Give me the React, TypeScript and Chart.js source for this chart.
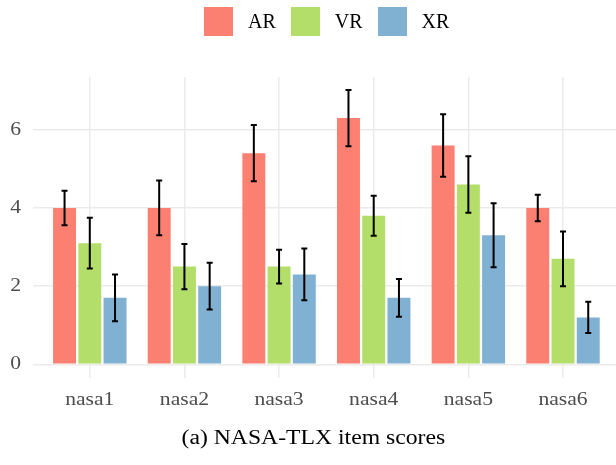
import React, { useEffect, useRef } from "react";
import { Chart, registerables } from "chart.js";
Chart.register(...registerables);

const categories = ["nasa1", "nasa2", "nasa3", "nasa4", "nasa5", "nasa6"];
const seriesNames = ["AR", "VR", "XR"];
const arMean = [4.0, 4.0, 5.4, 6.3, 5.6, 4.0];
const vrMean = [3.1, 2.5, 2.5, 3.8, 4.6, 2.7];
const xrMean = [1.7, 2.0, 2.3, 1.7, 3.3, 1.2];
const arErr = [0.44, 0.7, 0.72, 0.72, 0.8, 0.34];
const vrErr = [0.65, 0.58, 0.43, 0.51, 0.72, 0.7];
const xrErr = [0.6, 0.6, 0.66, 0.48, 0.82, 0.4];
const yTicks = [0, 2, 4, 6];
const colors = ["#FB8072", "#B3DE69", "#80B1D3"];
const caption = "(a) NASA-TLX item scores";

const means = [arMean, vrMean, xrMean];
const errs = [arErr, vrErr, xrErr];

const FONT = "'Liberation Serif', 'DejaVu Serif', serif";
const TICK_STRETCH = 1.2;
const CAPTION_STRETCH = 1.184;

const stretchTextPlugin = {
  id: "stretchText",
  beforeDraw(chart: any) {
    const ctx = chart.ctx;
    const orig = ctx.fillText;
    chart.$origFillText = orig;
    ctx.fillText = function (text: string, x: number, y: number, maxWidth?: number) {
      this.save();
      this.translate(x, y);
      this.scale(TICK_STRETCH, 1);
      if (maxWidth !== undefined && maxWidth !== null) {
        orig.call(this, text, 0, 0, maxWidth / TICK_STRETCH);
      } else {
        orig.call(this, text, 0, 0);
      }
      this.restore();
    };
  },
  afterDraw(chart: any) {
    if (chart.$origFillText) {
      chart.ctx.fillText = chart.$origFillText;
    }
  },
};

const errorBarPlugin = {
  id: "errorBars",
  afterDatasetsDraw(chart: any) {
    const ctx = chart.ctx;
    const y = chart.scales.y;
    ctx.save();
    ctx.strokeStyle = "#000000";
    ctx.lineWidth = 2;
    chart.data.datasets.forEach((_ds: any, di: number) => {
      const meta = chart.getDatasetMeta(di);
      meta.data.forEach((bar: any, i: number) => {
        const m = means[di][i];
        const e = errs[di][i];
        const top = y.getPixelForValue(m + e);
        const bot = y.getPixelForValue(m - e);
        const x = bar.x;
        const cap = 3;
        ctx.beginPath();
        ctx.moveTo(x, top);
        ctx.lineTo(x, bot);
        ctx.moveTo(x - cap, top);
        ctx.lineTo(x + cap, top);
        ctx.moveTo(x - cap, bot);
        ctx.lineTo(x + cap, bot);
        ctx.stroke();
      });
    });
    ctx.restore();
  },
};

export default function App() {
  const canvasRef = useRef<HTMLCanvasElement | null>(null);

  useEffect(() => {
    if (!canvasRef.current) return;
    const chart = new Chart(canvasRef.current, {
      type: "bar",
      data: {
        datasets: seriesNames.map((name, di) => ({
          label: name,
          data: means[di].map((v, i) => ({ x: i + 1, y: v })),
          backgroundColor: colors[di],
          borderWidth: 0,
          categoryPercentage: 0.8,
          barPercentage: 0.91,
        })),
      },
      options: {
        animation: false,
        responsive: true,
        maintainAspectRatio: false,
        layout: { padding: { top: 77, left: 0, right: 0, bottom: 0 } },
        plugins: {
          legend: { display: false },
          tooltip: { enabled: false },
          title: { display: false },
        },
        scales: {
          x: {
            type: "linear",
            min: 0.4,
            max: 6.56,
            offset: false,
            afterBuildTicks: (axis: any) => {
              axis.ticks = categories.map((_, i) => ({ value: i + 1 }));
            },
            afterFit: (axis: any) => {
              axis.height = 87;
            },
            grid: {
              offset: false,
              color: "#EBEBEB",
              lineWidth: 1.5,
              drawTicks: false,
            },
            border: { display: false },
            ticks: {
              padding: 11,
              color: "#4D4D4D",
              font: { family: FONT, size: 18 },
              maxRotation: 0,
              autoSkip: false,
              callback: (value: any) => categories[Math.round(value) - 1] ?? "",
            },
          },
          y: {
            type: "linear",
            min: -0.35,
            max: 7.35,
            afterBuildTicks: (axis: any) => {
              axis.ticks = yTicks.map((v) => ({ value: v }));
            },
            afterFit: (axis: any) => {
              axis.width = 33;
            },
            grid: {
              color: "#EBEBEB",
              lineWidth: 1.5,
              drawTicks: false,
            },
            border: { display: false },
            ticks: {
              padding: 12,
              color: "#4D4D4D",
              font: { family: FONT, size: 18 },
              callback: (value: any) => String(value),
            },
          },
        },
      },
      plugins: [stretchTextPlugin, errorBarPlugin],
    } as any);
    return () => chart.destroy();
  }, []);

  return (
    <div
      style={{
        position: "absolute",
        left: 0,
        top: 0,
        width: 616,
        height: 465,
        background: "#ffffff",
        fontFamily: FONT,
      }}
    >
      <div style={{ position: "absolute", left: 0, top: 0, width: 616, height: 465 }}>
        <canvas ref={canvasRef} />
      </div>
      <div
        style={{
          position: "absolute",
          left: 204,
          top: 7,
          height: 29,
          display: "flex",
          alignItems: "center",
        }}
      >
        {seriesNames.map((name, i) => (
          <div key={name} style={{ display: "flex", alignItems: "center", marginRight: 15 }}>
            <div style={{ width: 29, height: 29, background: colors[i], marginRight: 15 }} />
            <span style={{ fontSize: 20, color: "#000000", lineHeight: "29px" }}>{name}</span>
          </div>
        ))}
      </div>
      <div
        style={{
          position: "absolute",
          left: 0,
          top: 425,
          width: 627,
          textAlign: "center",
          fontSize: 20,
          lineHeight: "24px",
          color: "#000000",
        }}
      >
        <span
          style={{
            display: "inline-block",
            transform: `scaleX(${CAPTION_STRETCH})`,
            transformOrigin: "center",
          }}
        >
          {caption}
        </span>
      </div>
    </div>
  );
}
